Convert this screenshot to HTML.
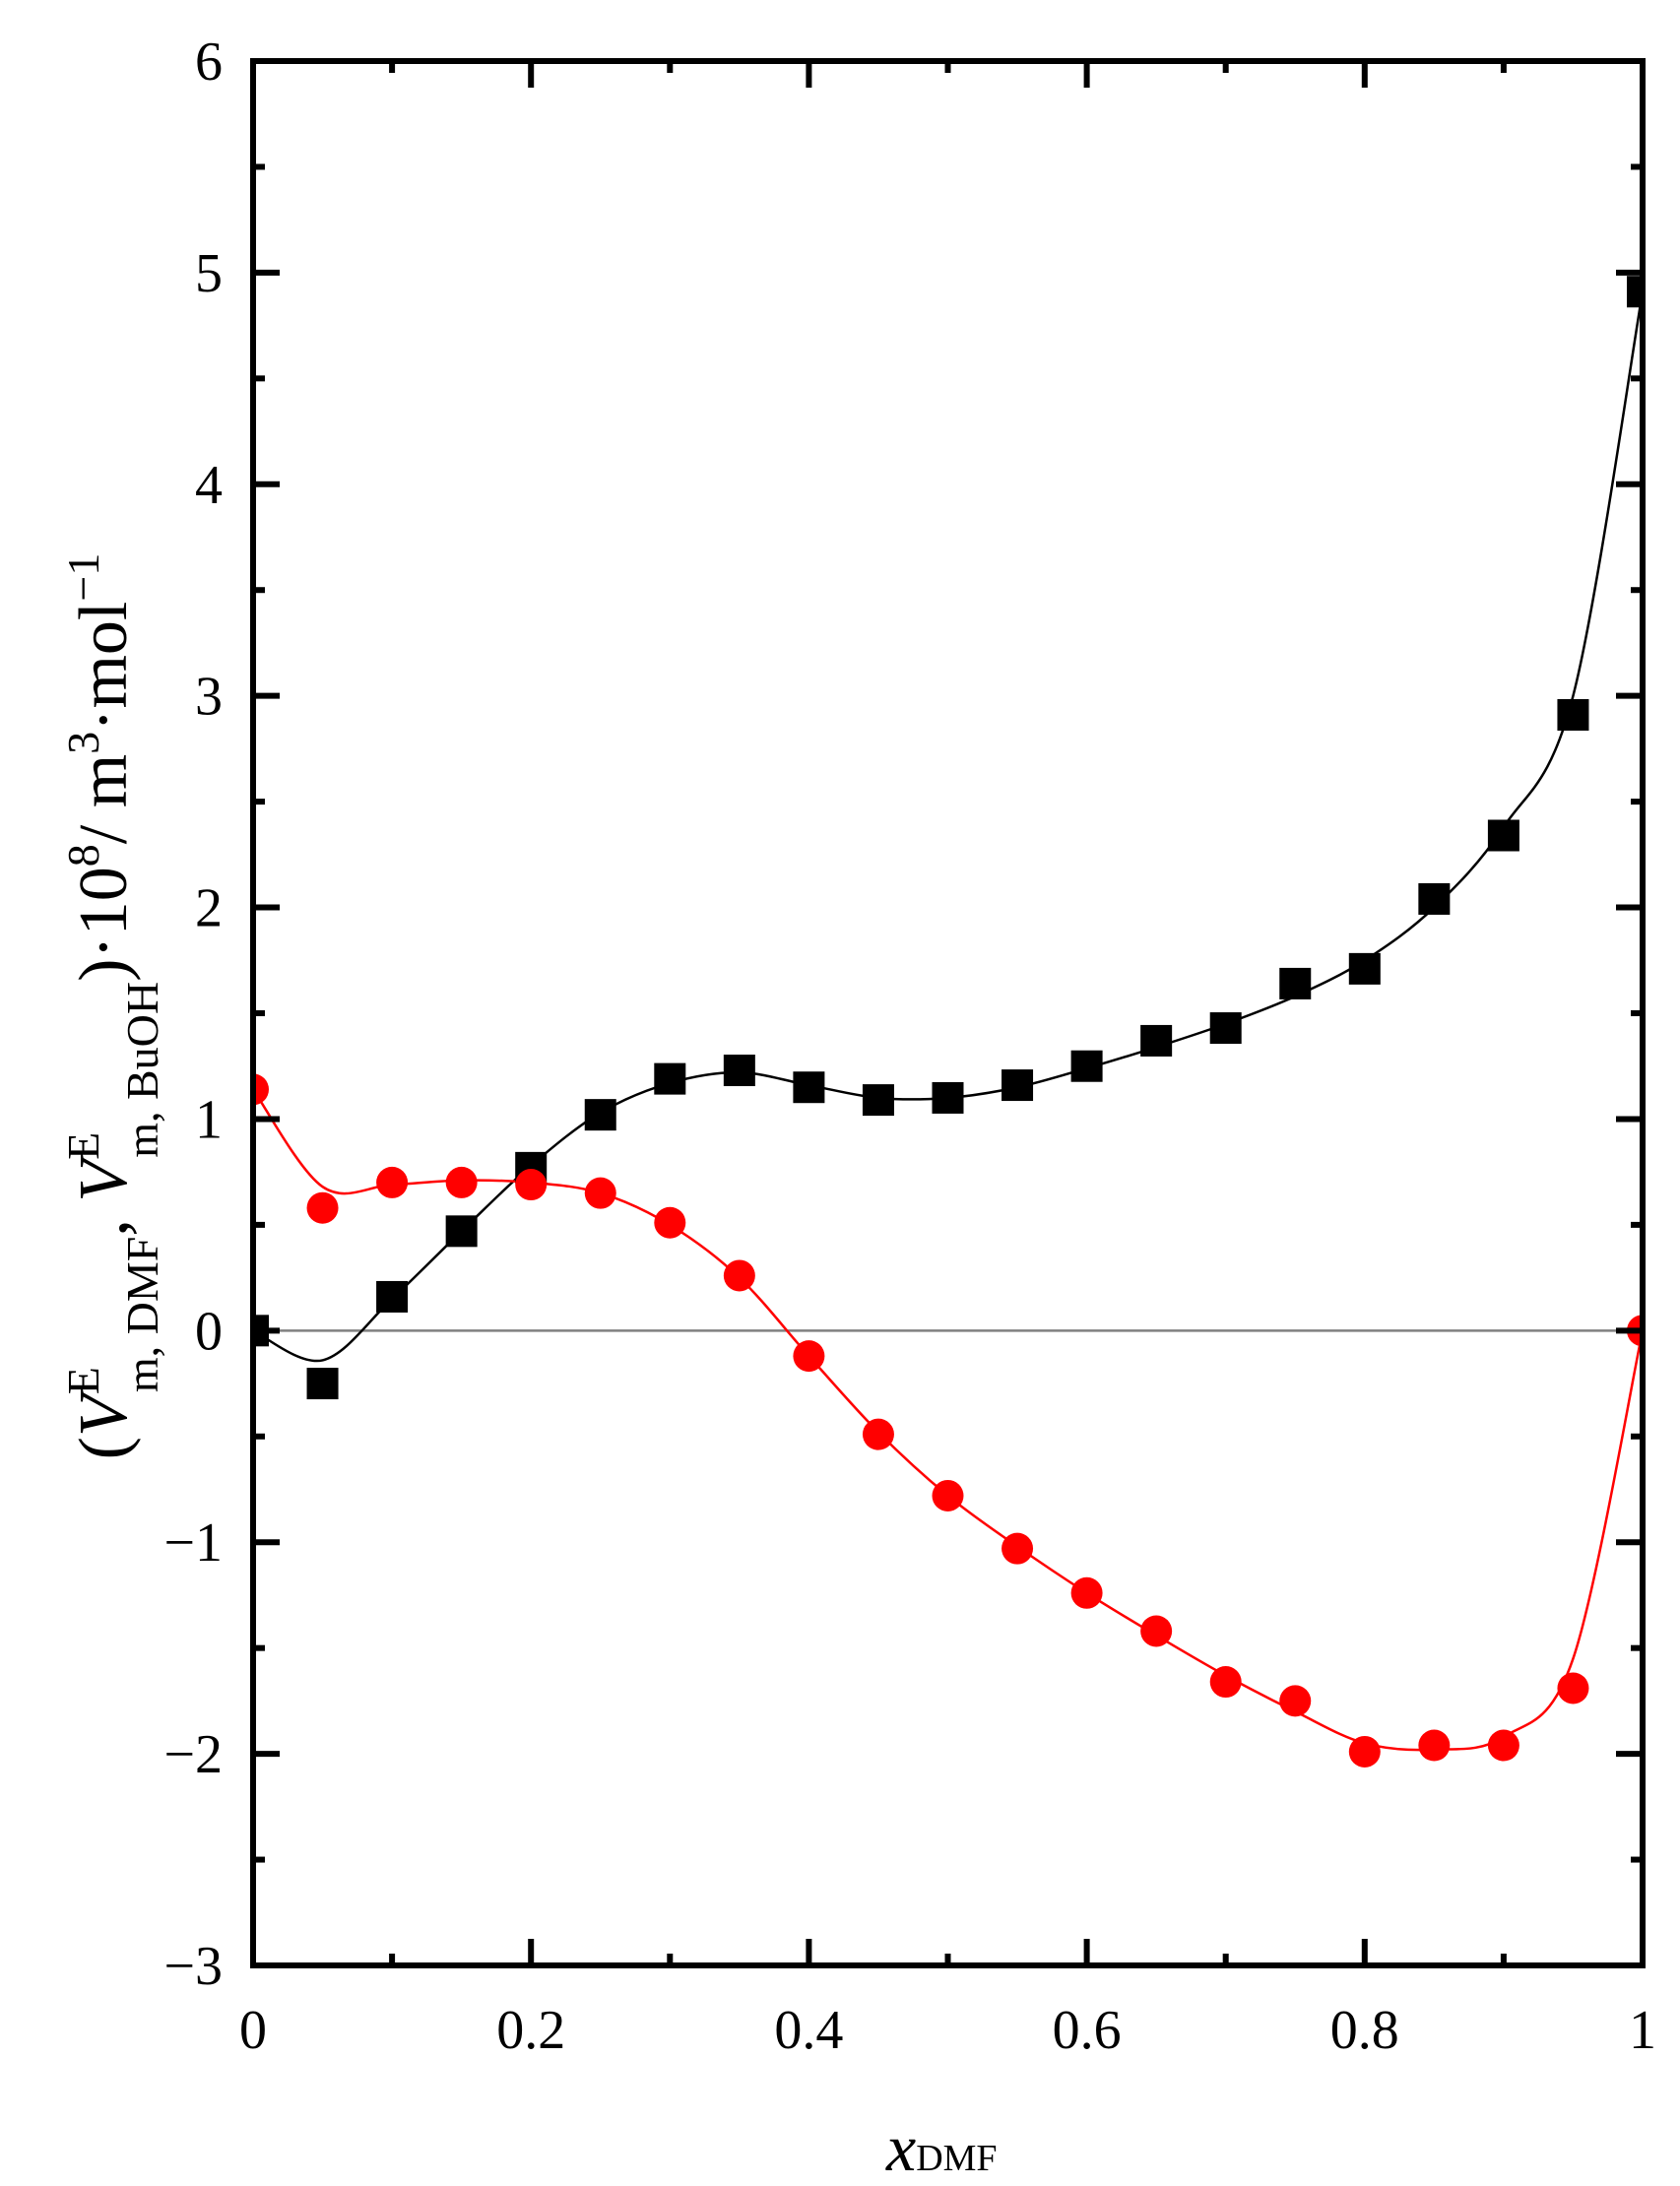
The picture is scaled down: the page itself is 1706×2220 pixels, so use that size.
<!DOCTYPE html>
<html><head><meta charset="utf-8"><style>
html,body{margin:0;padding:0;background:#fff;}
svg{display:block;font-family:"Liberation Serif",serif;}
</style></head><body>
<svg id="chart" width="1706" height="2220" viewBox="0 0 1706 2220" xmlns="http://www.w3.org/2000/svg">
<defs><clipPath id="plotclip"><rect x="257" y="62" width="1411" height="1934"/></clipPath></defs>
<g id="grid"></g>
<g id="curves" clip-path="url(#plotclip)"></g>
<g id="marks" clip-path="url(#plotclip)"></g>
<g id="axes"></g>
<text transform="translate(128,1022) rotate(-90)" text-anchor="middle" font-size="70">(<tspan font-style="italic">V</tspan><tspan font-size="46" dy="-28">E</tspan><tspan font-size="46" dx="-26" dy="60">m, DMF</tspan><tspan dy="-32">, </tspan><tspan font-style="italic">V</tspan><tspan font-size="46" dy="-28">E</tspan><tspan font-size="46" dx="-26" dy="60">m, BuOH</tspan><tspan dy="-32">)·10</tspan><tspan font-size="46" dy="-28">8</tspan><tspan dy="28">/ m</tspan><tspan font-size="46" dy="-28">3</tspan><tspan dy="28">·mol</tspan><tspan font-size="46" dy="-28">−1</tspan></text>
<text x="900" y="2204" font-size="68"><tspan font-style="italic">x</tspan><tspan font-size="38">DMF</tspan></text>
</svg>
<script>
const xs = [0,0.05,0.1,0.15,0.2,0.25,0.3,0.35,0.4,0.45,0.5,0.55,0.6,0.65,0.7,0.75,0.8,0.85,0.9,0.95,1];
const dmfValues = [0,-0.25,0.16,0.47,0.77,1.02,1.19,1.23,1.15,1.09,1.10,1.16,1.25,1.37,1.43,1.64,1.71,2.04,2.34,2.91,4.91];
const buohValues = [1.14,0.58,0.70,0.70,0.69,0.65,0.51,0.26,-0.12,-0.49,-0.78,-1.03,-1.24,-1.42,-1.66,-1.75,-1.99,-1.96,-1.96,-1.69,0];
const dmfFit = [0,-0.14,0.15,0.47,0.78,1.03,1.17,1.22,1.16,1.10,1.10,1.15,1.24,1.34,1.45,1.58,1.75,2.0,2.38,3.0,4.91];
const buohFit = [1.14,0.68,0.69,0.71,0.70,0.65,0.50,0.25,-0.12,-0.48,-0.78,-1.02,-1.24,-1.44,-1.63,-1.80,-1.95,-1.98,-1.92,-1.55,0];
const xTicks = ["0","0.2","0.4","0.6","0.8","1"];
const yTicks = ["−3","−2","−1","0","1","2","3","4","5","6"];

const L=257,R=1668,T=62,B=1996;
const X=v=>L+v*(R-L);
const Y=v=>B-(v+3)/9*(B-T);
const NS="http://www.w3.org/2000/svg";
function mk(tag,parent,attrs){const e=document.createElementNS(NS,tag);for(const k in attrs)e.setAttribute(k,attrs[k]);parent.appendChild(e);return e;}
const grid=document.getElementById('grid'),curves=document.getElementById('curves'),marks=document.getElementById('marks'),axes=document.getElementById('axes');

let z=mk('line',grid,{x1:L,x2:R,y1:Y(0),y2:Y(0),stroke:'#808080','stroke-width':2.5});



function spline(vals){
  const p=xs.map((x,i)=>[X(x),Y(vals[i])]);
  let d='M'+p[0][0]+','+p[0][1];
  for(let i=0;i<p.length-1;i++){
    const p0=p[i-1]||p[i],p1=p[i],p2=p[i+1],p3=p[i+2]||p[i+1];
    const c1=[p1[0]+(p2[0]-p0[0])/6,p1[1]+(p2[1]-p0[1])/6];
    const c2=[p2[0]-(p3[0]-p1[0])/6,p2[1]-(p3[1]-p1[1])/6];
    d+=` C${c1[0]},${c1[1]} ${c2[0]},${c2[1]} ${p2[0]},${p2[1]}`;
  }
  return d;
}
let c1=mk('path',curves,{d:spline(dmfFit),fill:'none',stroke:'#000','stroke-width':2.5});


let c2=mk('path',curves,{d:spline(buohFit),fill:'none',stroke:'#f00','stroke-width':2.5});



xs.forEach((x,i)=>{
  const s=mk('rect',marks,{x:X(x)-16,y:Y(dmfValues[i])-16,width:32,height:32,fill:'#000'});
  
  
});
xs.forEach((x,i)=>{
  const c=mk('circle',marks,{cx:X(x),cy:Y(buohValues[i]),r:16,fill:'#f00'});
  
  
});

const fr=mk('rect',axes,{x:L,y:T,width:R-L,height:B-T,fill:'none',stroke:'#000','stroke-width':6});


for(let k=0;k<=10;k++){
  const v=k/10,len=k%2==0?27:12;
  mk('line',axes,{x1:X(v),x2:X(v),y1:B,y2:B-len,stroke:'#000','stroke-width':6});
  mk('line',axes,{x1:X(v),x2:X(v),y1:T,y2:T+len,stroke:'#000','stroke-width':6});
}
xTicks.forEach((t,i)=>{
  const e=mk('text',axes,{x:X(i*0.2),y:2080,'text-anchor':'middle','font-size':56});
  e.textContent=t;
  
  
});
for(let k=0;k<=18;k++){
  const v=-3+k*0.5,len=k%2==0?27:12;
  mk('line',axes,{x1:L,x2:L+len,y1:Y(v),y2:Y(v),stroke:'#000','stroke-width':6});
  mk('line',axes,{x1:R,x2:R-len,y1:Y(v),y2:Y(v),stroke:'#000','stroke-width':6});
}
yTicks.forEach((t,i)=>{
  const e=mk('text',axes,{x:226,y:Y(i-3)+19,'text-anchor':'end','font-size':56});
  e.textContent=t;
  
  
});
</script>
</body></html>
